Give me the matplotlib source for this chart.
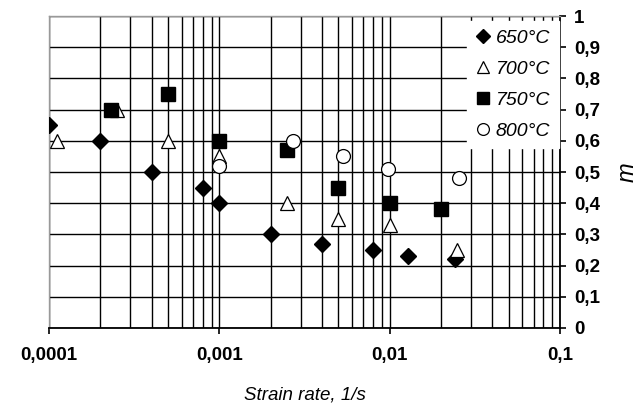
import matplotlib
matplotlib.use("Agg")
import matplotlib.pyplot as plt
from matplotlib.ticker import FixedLocator, LogLocator, NullFormatter

plt.rcParams['font.family'] = ['Liberation Sans', 'DejaVu Sans']

# strain rate (1/s) and m values per temperature
x650 = [0.0001, 0.0002, 0.0004, 0.0008, 0.001, 0.002, 0.004, 0.008, 0.0128, 0.0242]
m650 = [0.65, 0.60, 0.50, 0.45, 0.40, 0.30, 0.27, 0.25, 0.23, 0.22]

x700 = [0.000111, 0.00025, 0.0005, 0.001, 0.0025, 0.005, 0.01, 0.025]
m700 = [0.60, 0.70, 0.60, 0.55, 0.40, 0.35, 0.33, 0.25]

x750 = [0.00023, 0.0005, 0.001, 0.0025, 0.005, 0.01, 0.02]
m750 = [0.70, 0.75, 0.60, 0.57, 0.45, 0.40, 0.38]

x800 = [0.001, 0.0027, 0.0053, 0.0098, 0.0256]
m800 = [0.52, 0.60, 0.55, 0.51, 0.48]

labels = ['650°C', '700°C', '750°C', '800°C']
xticks = [0.0001, 0.001, 0.01, 0.1]
xticklabels = ['0,0001', '0,001', '0,01', '0,1']
yticks = [i / 10 for i in range(11)]
yticklabels = ['0'] + ['0,%d' % i for i in range(1, 10)] + ['1']

fig = plt.figure(figsize=(6.38, 4.08), dpi=100)
ax = fig.add_axes([49 / 638, 80 / 408, 511 / 638, 312 / 408])

ax.plot(x650, m650, 'D', ms=8, color='black', mec='black', label=labels[0], zorder=3)
ax.plot(x700, m700, '^', ms=10.5, mfc='white', mec='black', mew=0.9, label=labels[1], zorder=3)
ax.plot(x750, m750, 's', ms=10, color='black', label=labels[2], zorder=3)
ax.plot(x800, m800, 'o', ms=10, mfc='white', mec='black', mew=0.9, label=labels[3], zorder=3)

ax.set_xscale('log')
ax.set_xlim(0.0001, 0.1)
ax.set_ylim(0, 1)

ax.xaxis.set_major_locator(FixedLocator(xticks))
ax.set_xticklabels(xticklabels)
ax.xaxis.set_minor_locator(LogLocator(base=10, subs=range(2, 10)))
ax.xaxis.set_minor_formatter(NullFormatter())
ax.set_yticks(yticks)
ax.set_yticklabels(yticklabels)

ax.yaxis.tick_right()
ax.yaxis.set_label_position('right')
ax.tick_params(axis='x', which='major', direction='out', length=4, width=1.2, pad=10,
               labelsize=13.5)
ax.tick_params(axis='x', which='minor', length=0)
ax.tick_params(axis='y', direction='out', length=4, width=1.2, pad=6, labelsize=13.5)
for t in ax.get_xticklabels() + ax.get_yticklabels():
    t.set_fontweight('bold')

ax.grid(True, which='both', axis='x', color='black', lw=1.0)
ax.grid(True, which='major', axis='y', color='black', lw=1.0)
ax.set_axisbelow(True)

ax.spines['left'].set_color('#999999')
ax.spines['top'].set_color('#999999')
ax.spines['left'].set_linewidth(1.0)
ax.spines['top'].set_linewidth(1.0)
ax.spines['bottom'].set_linewidth(1.3)
ax.spines['right'].set_linewidth(1.3)

ax.set_xlabel('Strain rate, 1/s', fontsize=13.5, style='italic', labelpad=16)
ax.set_ylabel('m', fontsize=17, style='italic', labelpad=11)

# white legend without border, reaching the right axis
leg = ax.legend(loc='upper right', bbox_to_anchor=(0.998, 0.985), borderaxespad=0,
                frameon=True, fancybox=False, framealpha=1, edgecolor='white',
                prop={'style': 'italic', 'size': 14}, handlelength=0.8,
                handletextpad=0.25, labelspacing=0.68, borderpad=0.45,
                markerscale=0.85)
leg.set_zorder(5)

fig.savefig('out.png', dpi=100)
